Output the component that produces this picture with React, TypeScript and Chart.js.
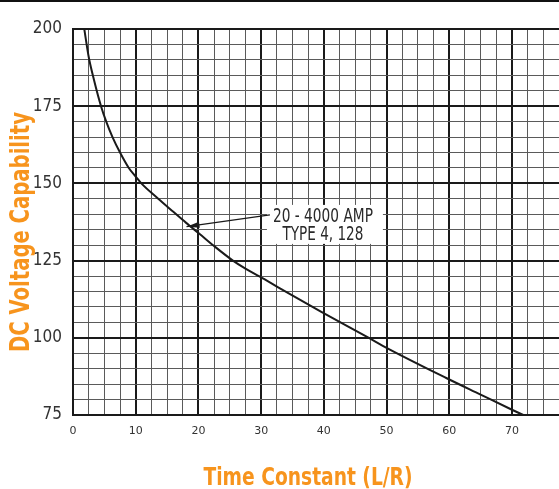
import React, { useEffect, useRef } from "react";
import { Chart, registerables } from "chart.js";

Chart.register(...registerables);

// ---- Data ----
const timeConstant = [1.8, 2.5, 3.35, 4.47, 5.3, 6.3, 7.5, 8.9, 10.0, 10.9, 13.5, 16, 18, 20.2, 22.5, 25.5, 27.5, 29.8, 33, 39.6, 47.4, 49.4, 59.6, 65, 70, 71.8];
const dcVoltage = [200, 191, 183.5, 175, 170, 165, 160, 155, 152.2, 150, 145.2, 140.8, 137.3, 133.6, 129.7, 125, 122.4, 119.8, 116, 108.4, 99.7, 97.4, 86.9, 81.6, 76.7, 75];
const yTickLabels = [75, 100, 125, 150, 175, 200];
const xTickLabels = [0, 10, 20, 30, 40, 50, 60, 70];
const seriesLabel = ["20 - 4000 AMP", "TYPE 4, 128"];
const xTitle = "Time Constant (L/R)";
const yTitle = "DC Voltage Capability";
const annotationTip = { x: 18.1, y: 136 };
const annotationTail = { x: 31.4, y: 139.8 };

const ORANGE = "#F7941D";
const NARROW = "'Liberation Sans Narrow', 'DejaVu Sans Condensed', 'Liberation Sans', sans-serif";

function fitText(ctx: CanvasRenderingContext2D, text: string, width: number, font: string, color: string) {
  ctx.save();
  ctx.font = font;
  const w = ctx.measureText(text).width;
  ctx.scale(width / w, 1);
  ctx.textAlign = "center";
  ctx.textBaseline = "alphabetic";
  ctx.fillStyle = color;
  ctx.fillText(text, 0, 0);
  ctx.restore();
}

const decorPlugin = {
  id: "decor",
  afterDraw(chart: any) {
    const ctx: CanvasRenderingContext2D = chart.ctx;
    const xs = chart.scales.x;
    const ys = chart.scales.y;
    ctx.save();
    // top rule
    ctx.fillStyle = "#111";
    ctx.fillRect(0, 0, chart.width, 2);

    // axis titles
    ctx.save();
    ctx.translate(29, 232);
    ctx.rotate(-Math.PI / 2);
    fitText(ctx, yTitle, 240, `bold 26px ${NARROW}`, ORANGE);
    ctx.restore();

    ctx.save();
    ctx.translate(308, 485);
    fitText(ctx, xTitle, 209, `bold 25px ${NARROW}`, ORANGE);
    ctx.restore();

    // annotation
    const tipX = xs.getPixelForValue(annotationTip.x);
    const tipY = ys.getPixelForValue(annotationTip.y);
    const tailX = xs.getPixelForValue(annotationTail.x);
    const tailY = ys.getPixelForValue(annotationTail.y);
    const cx = tailX + 53;
    ctx.fillStyle = "#fff";
    ctx.fillRect(tailX - 3, tailY - 10, 116, 39);

    ctx.strokeStyle = "#1a1a1a";
    ctx.lineWidth = 1.2;
    ctx.beginPath();
    ctx.moveTo(tailX, tailY);
    ctx.lineTo(tipX, tipY);
    ctx.stroke();
    const ang = Math.atan2(tipY - tailY, tipX - tailX);
    const len = 13, half = 3;
    const bx = tipX - len * Math.cos(ang);
    const by = tipY - len * Math.sin(ang);
    ctx.fillStyle = "#1a1a1a";
    ctx.beginPath();
    ctx.moveTo(tipX, tipY);
    ctx.lineTo(bx + half * Math.sin(ang), by - half * Math.cos(ang));
    ctx.lineTo(bx - half * Math.sin(ang), by + half * Math.cos(ang));
    ctx.closePath();
    ctx.fill();

    ctx.save();
    ctx.translate(cx, tailY + 7);
    fitText(ctx, seriesLabel[0], 100, `19px ${NARROW}`, "#2a2a2a");
    ctx.restore();
    ctx.save();
    ctx.translate(cx, tailY + 25);
    fitText(ctx, seriesLabel[1], 81, `19px ${NARROW}`, "#2a2a2a");
    ctx.restore();

    ctx.restore();
  },
};

export default function App() {
  const ref = useRef<HTMLCanvasElement | null>(null);

  useEffect(() => {
    if (!ref.current) return;
    const isMajor = (c: any) => {
      const v = c.tick ? c.tick.value : 0;
      return c.scale.axis === "x" ? v % 10 === 0 : v % 25 === 0;
    };
    const gridColor = (c: any) => (isMajor(c) ? "#1a1a1a" : "#5a5a5a");
    const gridWidth = (c: any) => (isMajor(c) ? 2 : 1);
    const chart = new Chart(ref.current, {
      type: "line",
      data: {
        datasets: [
          {
            label: seriesLabel.join(" "),
            data: timeConstant.map((x, i) => ({ x, y: dcVoltage[i] })),
            borderColor: "#1a1a1a",
            borderWidth: 2,
            pointRadius: 0,
            cubicInterpolationMode: "monotone",
            fill: false,
          },
        ],
      },
      options: {
        animation: false,
        responsive: false,
        layout: { padding: { top: 29, left: 0, right: 0, bottom: 0 } },
        plugins: {
          legend: { display: false },
          tooltip: { enabled: false },
        },
        scales: {
          x: {
            type: "linear",
            min: 0,
            max: 77.5,
            afterFit: (s: any) => {
              s.height = 74;
              s.paddingLeft = 0;
              s.paddingRight = 0;
            },
            border: { display: true, color: "#1a1a1a", width: 2 },
            grid: { color: gridColor, lineWidth: gridWidth, drawTicks: false },
            ticks: {
              stepSize: 2.5,
              autoSkip: false,
              maxRotation: 0,
              padding: 10,
              color: "#333",
              font: { family: "'DejaVu Sans', sans-serif", size: 11 },
              callback: (v: any) => (xTickLabels.includes(Number(v)) ? String(v) : ""),
            },
          },
          y: {
            type: "linear",
            min: 75,
            max: 200,
            afterFit: (s: any) => {
              s.width = 73;
              s.paddingTop = 0;
              s.paddingBottom = 0;
            },
            border: { display: true, color: "#1a1a1a", width: 2 },
            grid: { color: gridColor, lineWidth: gridWidth, drawTicks: false },
            ticks: {
              stepSize: 5,
              autoSkip: false,
              padding: 11,
              color: "#333",
              font: { family: NARROW, size: 17 },
              callback: (v: any) => (yTickLabels.includes(Number(v)) ? String(v) : ""),
            },
          },
        },
      },
      plugins: [decorPlugin],
    } as any);
    return () => chart.destroy();
  }, []);

  return (
    <div style={{ position: "fixed", left: 0, top: 0, width: 559, height: 489, background: "#fff", overflow: "hidden" }}>
      <canvas ref={ref} width={559} height={489} style={{ display: "block" }} />
    </div>
  );
}
